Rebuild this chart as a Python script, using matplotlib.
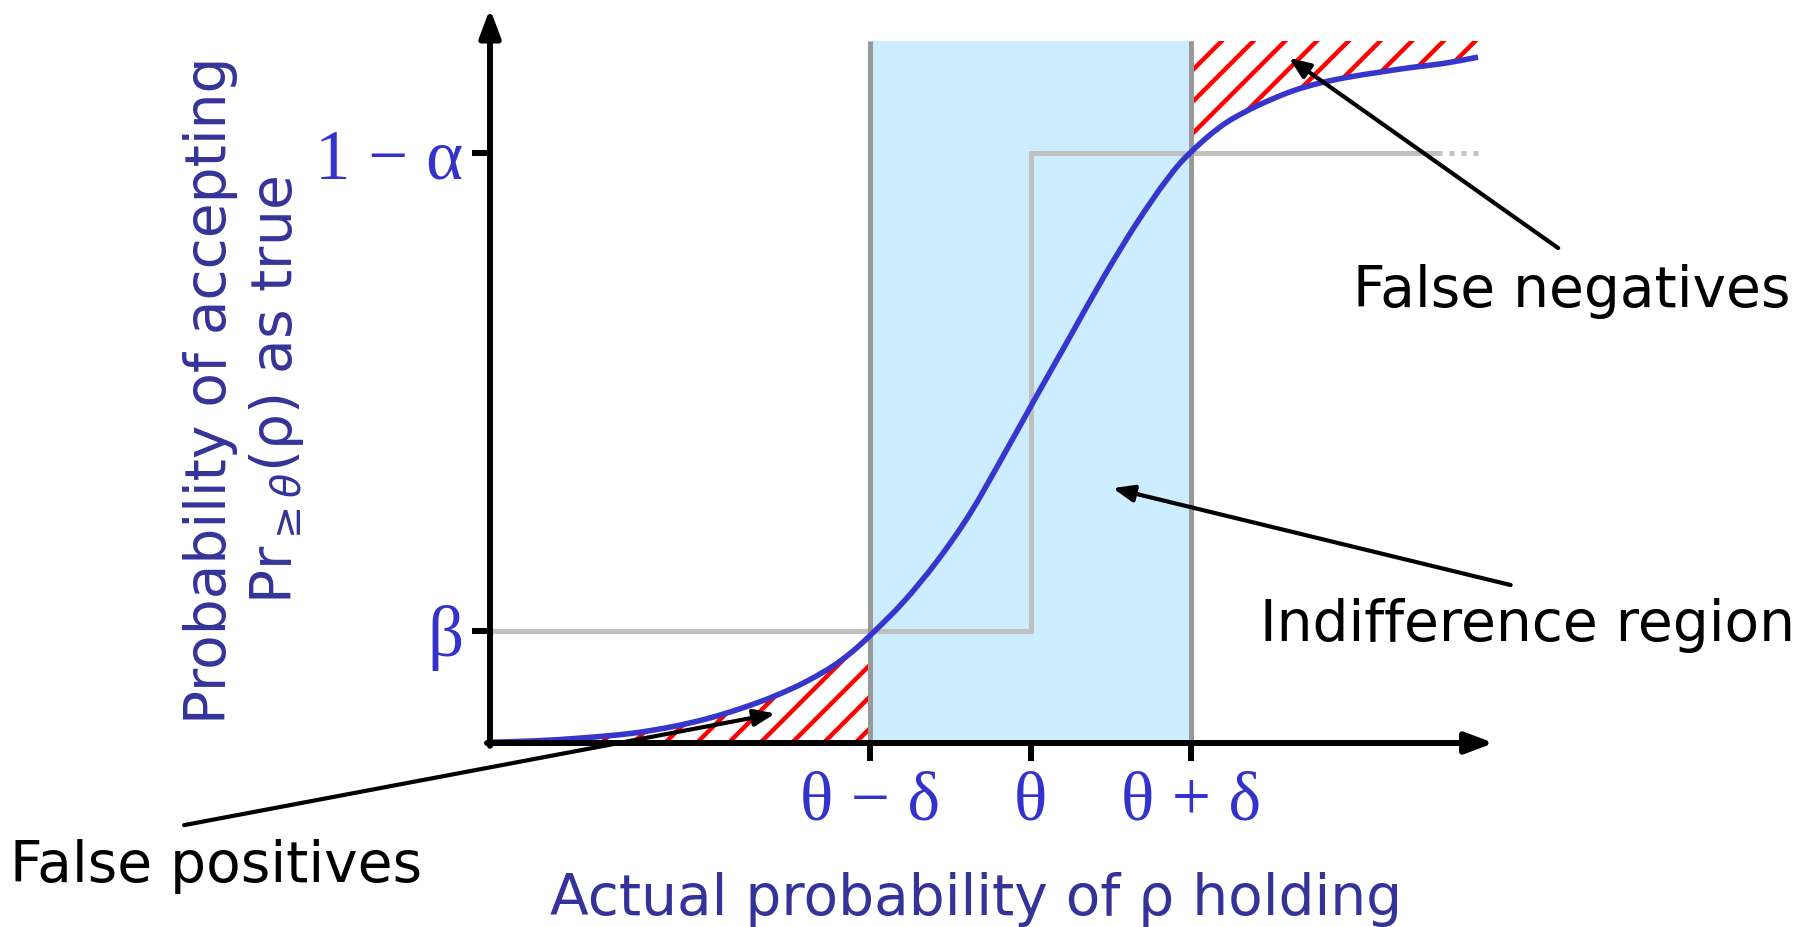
import numpy as np
import matplotlib
matplotlib.use("Agg")
import matplotlib.pyplot as plt
from matplotlib.patches import Polygon, PathPatch
from matplotlib.path import Path
from matplotlib.collections import LineCollection

# =================================

# actual probability of rho holding vs probability of accepting
rho_actual = [0.000, 0.045, 0.091, 0.152, 0.185, 0.219, 0.253, 0.286, 0.320, 0.354,
              0.370, 0.386, 0.417, 0.451, 0.485, 0.518, 0.548, 0.586, 0.620, 0.653,
              0.684, 0.697, 0.709, 0.727, 0.744, 0.764, 0.788, 0.811, 0.838, 0.865,
              0.896, 0.929, 0.963, 0.998]
p_accept = [0.001, 0.003, 0.007, 0.0155, 0.0235, 0.0345, 0.049, 0.066, 0.088, 0.117,
            0.135, 0.156, 0.200, 0.258, 0.327, 0.408, 0.484, 0.579, 0.664, 0.740,
            0.803, 0.826, 0.843, 0.866, 0.884, 0.900, 0.916, 0.929, 0.940, 0.948,
            0.955, 0.962, 0.968, 0.977]

theta = 0.546
delta = 0.1625
alpha = 0.16
beta = 0.16
ideal_dotted_from = 0.957

x_tick_labels = ["θ − δ", "θ", "θ + δ"]
y_tick_labels = ["β", "1 − α"]

# =================================

BLUE = "#3636CC"
TICK_BLUE = "#3333CC"
LABEL_BLUE = "#333399"
FS = 40.8

fig = plt.figure(figsize=(18.16, 9.27), dpi=100)
ax = fig.add_axes([490 / 1816, 184 / 927, 990 / 1816, 702 / 927])
ax.set_xlim(0, 1)
ax.set_ylim(0, 1)
for s in ax.spines.values():
    s.set_visible(False)

xs = np.array(rho_actual)
ys = np.array(p_accept)
lo, hi = theta - delta, theta + delta

# indifference region
ax.axvspan(lo, hi, color="#CCECFF", lw=0, zorder=0)
ax.vlines([lo, hi], 0, 1, colors="#999999", lw=3.6, zorder=3.5, clip_on=False)

# ideal step response
ax.plot([0, theta, theta, ideal_dotted_from], [beta, beta, 1 - alpha, 1 - alpha],
        color="#C0C0C0", lw=3.6, zorder=2, clip_on=False, solid_joinstyle="miter")
ax.plot([ideal_dotted_from, 1.0], [1 - alpha, 1 - alpha], color="#C0C0C0", lw=3.6,
        dashes=(1, 1.4), zorder=2, clip_on=False)

# hatched error areas
p0 = ax.transData.transform((0, 0))
p1 = ax.transData.transform((1, 1))
k = (p1[0] - p0[0]) / (p1[1] - p0[1])
gap = 31.7 / (p1[0] - p0[0])


def hatch(verts, phase):
    patch = Polygon(verts, closed=True, fill=False, edgecolor="none")
    ax.add_patch(patch)
    segs = []
    for x0 in np.arange(phase - 40 * gap, phase + 40 * gap, gap):
        segs.append([(x0 - 0.1 / k, -0.1), (x0 + 1.1 / k, 1.1)])
    lc = LineCollection(segs, colors="#FF0000", linewidths=3.2, zorder=3)
    lc.set_capstyle("butt")
    ax.add_collection(lc)
    lc.set_clip_path(patch)


y_lo = np.interp(lo, xs, ys)
left = [(0, 0)] + [(x, y) for x, y in zip(xs, ys) if x < lo] + [(lo, y_lo), (lo, 0)]
hatch(left, 0.1768)

y_hi = np.interp(hi, xs, ys)
right = [(hi, 1), (hi, y_hi)] + [(x, y) for x, y in zip(xs, ys) if x > hi] + [(xs[-1], 1.0)]
hatch(right, 0.030)

# acceptance curve: smooth cubic path through the read points
h = np.diff(xs)
d = np.diff(ys) / h
m = np.empty_like(ys)
m[0], m[-1] = d[0], d[-1]
m[1:-1] = (d[:-1] * h[1:] + d[1:] * h[:-1]) / (h[:-1] + h[1:])
verts = [(xs[0], ys[0])]
codes = [Path.MOVETO]
for i in range(len(h)):
    verts += [(xs[i] + h[i] / 3, ys[i] + m[i] * h[i] / 3),
              (xs[i + 1] - h[i] / 3, ys[i + 1] - m[i + 1] * h[i] / 3),
              (xs[i + 1], ys[i + 1])]
    codes += [Path.CURVE4] * 3
ax.add_patch(PathPatch(Path(verts, codes), facecolor="none", edgecolor=BLUE, lw=4.0,
                       zorder=4, clip_on=False, capstyle="butt"))

# axes with arrow heads
axis_arrow = dict(arrowstyle="-|>,head_length=0.4,head_width=0.15", lw=4.3, color="black",
                  mutation_scale=42, shrinkA=0, shrinkB=0)
ax.annotate("", xy=(1.014, 0), xytext=(-0.003, 0), arrowprops=axis_arrow,
            annotation_clip=False, zorder=6)
ax.annotate("", xy=(0, 1.046), xytext=(0, -0.004), arrowprops=axis_arrow,
            annotation_clip=False, zorder=6)

ax.set_xticks([lo, theta, hi], x_tick_labels, fontfamily="Liberation Serif",
              fontsize=50, color=TICK_BLUE)
ax.set_yticks([beta, 1 - alpha], y_tick_labels, fontfamily="Liberation Serif",
              fontsize=51, color=TICK_BLUE)
ax.tick_params(axis="x", length=13, width=4.3, pad=7)
ax.tick_params(axis="y", length=13, width=4.3, pad=6)

# call-outs
note_arrow = dict(arrowstyle="-|>,head_length=0.45,head_width=0.18", lw=3, color="black",
                  mutation_scale=28, shrinkA=0, shrinkB=0)
ax.annotate("", xy=(0.807, 0.976), xytext=(1.079, 0.705), arrowprops=note_arrow,
            annotation_clip=False, zorder=7)
ax.annotate("", xy=(0.629, 0.363), xytext=(1.031, 0.225), arrowprops=note_arrow,
            annotation_clip=False, zorder=7)
ax.annotate("", xy=(0.288, 0.042), xytext=(-0.309, -0.117), arrowprops=note_arrow,
            annotation_clip=False, zorder=7)

fig.text(1572 / 1816, 1 - 307 / 927, "False negatives", fontsize=FS, ha="center", va="baseline")
fig.text(1527 / 1816, 1 - 641 / 927, "Indifference region", fontsize=FS, ha="center", va="baseline")
fig.text(216 / 1816, 1 - 882 / 927, "False positives", fontsize=FS, ha="center", va="baseline")

fig.text(976 / 1816, 1 - 915 / 927, "Actual probability of ρ holding", fontsize=FS,
         color=LABEL_BLUE, ha="center", va="baseline")
fig.text(245 / 1816, 1 - 390 / 927, "Probability of accepting\nPr$_{\\geq\\theta}$(ρ) as true",
         fontsize=FS, color=LABEL_BLUE, rotation=90, ha="center", va="center",
         multialignment="center")

fig.savefig("out.png", dpi=100, facecolor="white")
